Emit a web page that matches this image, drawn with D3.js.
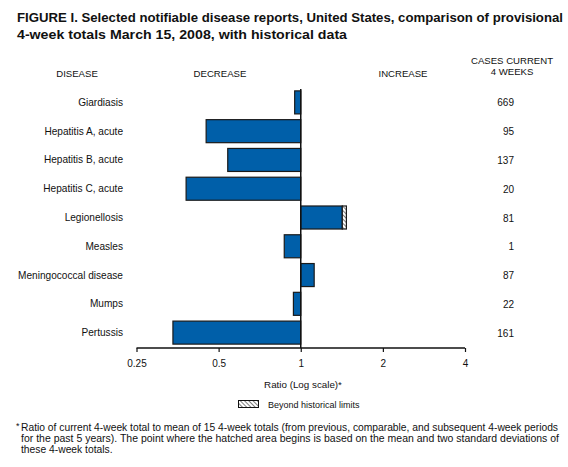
<!DOCTYPE html>
<html>
<head>
<meta charset="utf-8">
<script src="https://cdn.jsdelivr.net/npm/d3@7"></script>
<style>
  body { margin: 0; background: #fff; }
  svg { display: block; font-family: "Liberation Sans", Arial, Helvetica, sans-serif; }
</style>
</head>
<body>
<svg id="chart" width="568" height="467"></svg>
<script>
'use strict'

// data
const diseases = [
  'Giardiasis',
  'Hepatitis A, acute',
  'Hepatitis B, acute',
  'Hepatitis C, acute',
  'Legionellosis',
  'Measles',
  'Meningococcal disease',
  'Mumps',
  'Pertussis'
]
const ratios = [0.95, 0.45, 0.54, 0.38, 1.42, 0.87, 1.12, 0.94, 0.34]
// where the bar ends when it goes beyond historical limits (null = not beyond)
const beyondLimits = [null, null, null, null, 1.47, null, null, null, null]
const casesCurrent = [669, 95, 137, 20, 81, 1, 87, 22, 161]
const tickValues = [0.25, 0.5, 1, 2, 4]

const titleLines = [
  'FIGURE I. Selected notifiable disease reports, United States, comparison of provisional',
  '4-week totals March 15, 2008, with historical data'
]
const footnoteLines = [
  'Ratio of current 4-week total to mean of 15 4-week totals (from previous, comparable, and subsequent 4-week periods',
  'for the past 5 years). The point where the hatched area begins is based on the mean and two standard deviations of',
  'these 4-week totals.'
]

const svg = d3.select('#chart')
const blue = '#005fa9'

const x = d3.scaleLog().base(2).domain([0.25, 4]).range([136.5, 465])
const y = d3.scaleBand().domain(diseases).range([88, 347]).paddingInner(0.2).paddingOuter(0.1)
const axisY = 348

// hatch pattern
const defs = svg.append('defs')
const pat = defs.append('pattern')
  .attr('id', 'hatch')
  .attr('patternUnits', 'userSpaceOnUse')
  .attr('width', 3).attr('height', 3)
  .attr('patternTransform', 'rotate(-45)')
pat.append('rect').attr('width', 3).attr('height', 3).attr('fill', '#fff')
pat.append('line').attr('x1', 0).attr('y1', 0).attr('x2', 0).attr('y2', 3)
  .attr('stroke', '#000').attr('stroke-width', 1)

// title (the original face is a bit wider than Arial, so fit to the measured widths)
const titleWidths = [546, 330]
svg.append('g').selectAll('text').data(titleLines).join('text')
  .attr('x', 17)
  .attr('y', (d, i) => 22 + i * 17)
  .attr('font-size', 12.6)
  .attr('font-weight', 'bold')
  .attr('fill', '#111')
  .attr('textLength', (d, i) => titleWidths[i])
  .attr('lengthAdjust', 'spacingAndGlyphs')
  .text(d => d)

// column headers
const headers = [
  { t: 'DISEASE', x: 77, y: 77 },
  { t: 'DECREASE', x: 220, y: 77 },
  { t: 'INCREASE', x: 403, y: 77 },
  { t: 'CASES CURRENT', x: 512, y: 64 },
  { t: '4 WEEKS', x: 512, y: 75 }
]
svg.append('g').selectAll('text').data(headers).join('text')
  .attr('x', d => d.x).attr('y', d => d.y)
  .attr('text-anchor', 'middle')
  .attr('font-size', 9.6)
  .attr('fill', '#111')
  .text(d => d.t)

// bars
const bars = svg.append('g')
bars.selectAll('rect.bar').data(diseases).join('rect')
  .attr('class', 'bar')
  .attr('x', (d, i) => Math.min(x(1), x(ratios[i])))
  .attr('y', d => y(d))
  .attr('width', (d, i) => Math.abs(x(ratios[i]) - x(1)))
  .attr('height', y.bandwidth())
  .attr('fill', blue)
  .attr('stroke', '#1a1a1a')
  .attr('stroke-width', 1.2)

bars.selectAll('rect.beyond').data(diseases.filter((d, i) => beyondLimits[i] !== null)).join('rect')
  .attr('class', 'beyond')
  .attr('x', d => x(ratios[diseases.indexOf(d)]))
  .attr('y', d => y(d))
  .attr('width', d => x(beyondLimits[diseases.indexOf(d)]) - x(ratios[diseases.indexOf(d)]))
  .attr('height', y.bandwidth())
  .attr('fill', 'url(#hatch)')
  .attr('stroke', '#1a1a1a')
  .attr('stroke-width', 1.2)

// reference line at ratio 1
svg.append('line')
  .attr('x1', x(1)).attr('x2', x(1))
  .attr('y1', 89).attr('y2', axisY)
  .attr('stroke', '#111').attr('stroke-width', 1.5)

// disease labels
svg.append('g').selectAll('text').data(diseases).join('text')
  .attr('x', 123)
  .attr('y', d => y(d) + y.bandwidth() / 2 + 3.5)
  .attr('text-anchor', 'end')
  .attr('font-size', 10.1)
  .attr('fill', '#111')
  .text(d => d)

// cases current 4 weeks
svg.append('g').selectAll('text').data(casesCurrent).join('text')
  .attr('x', 514)
  .attr('y', (d, i) => y(diseases[i]) + y.bandwidth() / 2 + 4)
  .attr('text-anchor', 'end')
  .attr('font-size', 10)
  .attr('fill', '#111')
  .text(d => d)

// x axis
const axis = d3.axisBottom(x)
  .tickValues(tickValues)
  .tickFormat(d => d)
  .tickSize(4)
  .tickPadding(8)
const gAxis = svg.append('g')
  .attr('transform', `translate(0,${axisY})`)
  .call(axis)
gAxis.select('.domain').attr('stroke', '#111').attr('stroke-width', 1.3)
  .attr('d', `M${x(0.25)},0H${x(4)}`)
gAxis.selectAll('.tick line').attr('stroke', '#111').attr('stroke-width', 1.2)
gAxis.selectAll('.tick text')
  .attr('font-family', '"Liberation Sans", Arial, sans-serif')
  .attr('font-size', 10).attr('fill', '#111')

svg.append('text')
  .attr('x', 303).attr('y', 387.5)
  .attr('text-anchor', 'middle')
  .attr('font-size', 9.8)
  .attr('fill', '#111')
  .text('Ratio (Log scale)*')

// legend
svg.append('rect')
  .attr('x', 238.5).attr('y', 400.5)
  .attr('width', 20).attr('height', 7)
  .attr('fill', 'url(#hatch)')
  .attr('stroke', '#111').attr('stroke-width', 1)
svg.append('text')
  .attr('x', 268).attr('y', 407.5)
  .attr('font-size', 9)
  .attr('fill', '#111')
  .text('Beyond historical limits')

// footnote
const footWidths = [537, 538, null]
svg.append('text')
  .attr('x', 16).attr('y', 429)
  .attr('font-size', 9)
  .attr('fill', '#111')
  .text('*')
svg.append('g').selectAll('text').data(footnoteLines).join('text')
  .attr('x', 21)
  .attr('y', (d, i) => 431 + i * 11)
  .attr('font-size', 10.3)
  .attr('fill', '#111')
  .attr('textLength', (d, i) => footWidths[i])
  .attr('lengthAdjust', 'spacingAndGlyphs')
  .text(d => d)
</script>
</body>
</html>
